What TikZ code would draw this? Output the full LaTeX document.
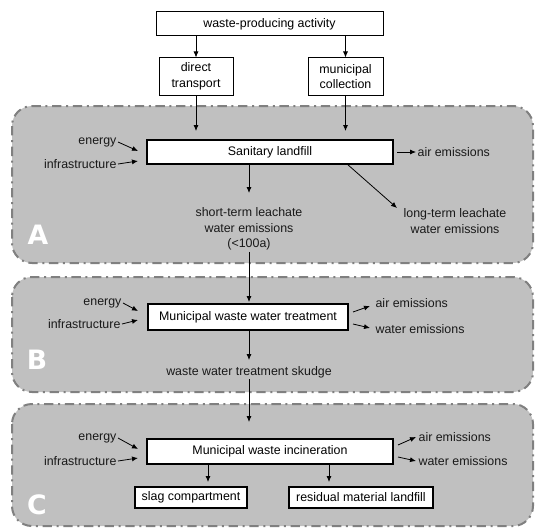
\documentclass[tikz,border=0pt]{standalone}
\usepackage{fontspec}
\setmainfont{Liberation Sans}
\newfontfamily\letterfont{DejaVu Sans}
\usetikzlibrary{arrows.meta}
\newcommand{\fs}{\fontsize{9.3}{11.6}\selectfont}
\definecolor{zonefill}{HTML}{C0C0C0}
\definecolor{zoneline}{HTML}{808080}
\tikzset{
  zone/.style={draw=zoneline, fill=zonefill, line width=1.5pt, rounded corners=15pt,
    dash pattern=on 7pt off 3.5pt on 1.5pt off 3.5pt},
  lbl/.style={font=\fs, inner sep=1pt, align=center, text=black!90},
  sbox/.style={draw, fill=white, line width=0.75pt, font=\fs, align=center, inner sep=0pt},
  pbox/.style={draw, fill=white, line width=1.5pt, font=\fs, align=center, inner sep=0pt},
  arr/.style={-{Latex[length=4.5pt,width=3.8pt]}, line width=0.6pt},
  zoneletter/.style={text=white, font=\letterfont\fontsize{20}{20}\selectfont\bfseries, inner sep=0pt},
}
\begin{document}
\begin{tikzpicture}[x=0.75pt,y=-0.75pt]
\fill[white] (0,0) rectangle (535,528);
\useasboundingbox (0,0) rectangle (535,528);

% three process zones
\draw[zone] (12,106) rectangle (533,263);
\draw[zone] (12,277) rectangle (533,392);
\draw[zone] (12,404) rectangle (533,526);
\node[zoneletter] (la) at (38,235) {A};
\node[zoneletter] (lb) at (37,360) {B};
\node[zoneletter] (lc) at (37,505) {C};

% sources
\node[sbox, minimum width=170.25pt, minimum height=18pt] (src) at (269.5,24) {waste-producing activity};
\node[sbox, minimum width=55.5pt, minimum height=27.75pt] (dt) at (196,76.5) {direct\\transport};
\node[sbox, minimum width=56.25pt, minimum height=27.75pt] (mc) at (345.5,76.5) {municipal\\collection};
\draw[arr] (dt.north |- src.south) -- (dt.north);
\draw[arr] (mc.north |- src.south) -- (mc.north);

% zone A: sanitary landfill
\node[pbox, minimum width=184.5pt, minimum height=18pt] (sl) at (270,152) {Sanitary landfill};
\coordinate (dtEnd) at (196,131);
\coordinate (mcEnd) at (345.5,131);
\draw[arr] (dt.south) -- (dtEnd);
\draw[arr] (mc.south) -- (mcEnd);
\node[lbl, anchor=east] (ea) at (118,142) {energy};
\node[lbl, anchor=east] (ia) at (118,164) {infrastructure};
\coordinate (eaEnd) at (138,151);
\coordinate (iaEnd) at (138,161);
\draw[arr] (ea.east) -- (eaEnd);
\draw[arr] (ia.east) -- (iaEnd);
\node[lbl, anchor=west] (aa) at (416,152) {air emissions};
\coordinate (aaStart) at (397,152);
\draw[arr] (aaStart) -- (aa.west);
\node[lbl] (st) at (249,229) {short-term leachate\\water emissions\\(\textless100a)};
\coordinate (slDown) at (249,164);
\coordinate (stTip) at (249,193);
\draw[arr] (slDown) -- (stTip);
\node[lbl] (lt) at (455,221) {long-term leachate\\water emissions};
\coordinate (slDiag) at (347,164);
\coordinate (ltTip) at (397,208);
\draw[arr] (slDiag) -- (ltTip);

% zone B: waste water treatment
\node[pbox, minimum width=150pt, minimum height=19.5pt] (ww) at (248,317) {Municipal waste water treatment};
\coordinate (wwTip) at (249,302);
\draw[arr] (st.south) -- (wwTip);
\node[lbl, anchor=east] (eb) at (123,303) {energy};
\node[lbl, anchor=east] (ib) at (122,324) {infrastructure};
\coordinate (ebEnd) at (138,311);
\coordinate (ibEnd) at (138,320);
\draw[arr] (eb.east) -- (ebEnd);
\draw[arr] (ib.east) -- (ibEnd);
\node[lbl, anchor=west] (ab) at (374,303) {air emissions};
\node[lbl, anchor=west] (wb) at (374,329) {water emissions};
\coordinate (abStart) at (353,312);
\coordinate (abTip) at (370,306);
\coordinate (wbStart) at (353,324);
\coordinate (wbTip) at (370,328);
\draw[arr] (abStart) -- (abTip);
\draw[arr] (wbStart) -- (wbTip);
\node[lbl] (sk) at (249,372) {waste water treatment skudge};
\coordinate (skTip) at (249,360);
\draw[arr] (ww.south -| skTip) -- (skTip);

% zone C: incineration
\node[pbox, minimum width=184.5pt, minimum height=18.75pt] (mi) at (270,451.5) {Municipal waste incineration};
\coordinate (miTip) at (249,422);
\draw[arr] (sk.south) -- (miTip);
\node[lbl, anchor=east] (ec) at (118,438) {energy};
\node[lbl, anchor=east] (ic) at (118,461) {infrastructure};
\coordinate (ecEnd) at (138,449);
\coordinate (icEnd) at (138,458);
\draw[arr] (ec.east) -- (ecEnd);
\draw[arr] (ic.east) -- (icEnd);
\node[lbl, anchor=west] (ac) at (417,437) {air emissions};
\node[lbl, anchor=west] (wc) at (417,461) {water emissions};
\coordinate (acStart) at (398,445);
\coordinate (acTip) at (416,437);
\coordinate (wcStart) at (398,457);
\coordinate (wcTip) at (416,461);
\draw[arr] (acStart) -- (acTip);
\draw[arr] (wcStart) -- (wcTip);
\node[pbox, minimum width=84pt, minimum height=15.75pt] (slag) at (191,497.5) {slag compartment};
\node[pbox, minimum width=108pt, minimum height=15.75pt] (res) at (361,497.5) {residual material landfill};
\coordinate (slagTip) at (208,482);
\coordinate (resTip) at (329,482);
\draw[arr] (mi.south -| slagTip) -- (slagTip);
\draw[arr] (mi.south -| resTip) -- (resTip);
\end{tikzpicture}
\end{document}
